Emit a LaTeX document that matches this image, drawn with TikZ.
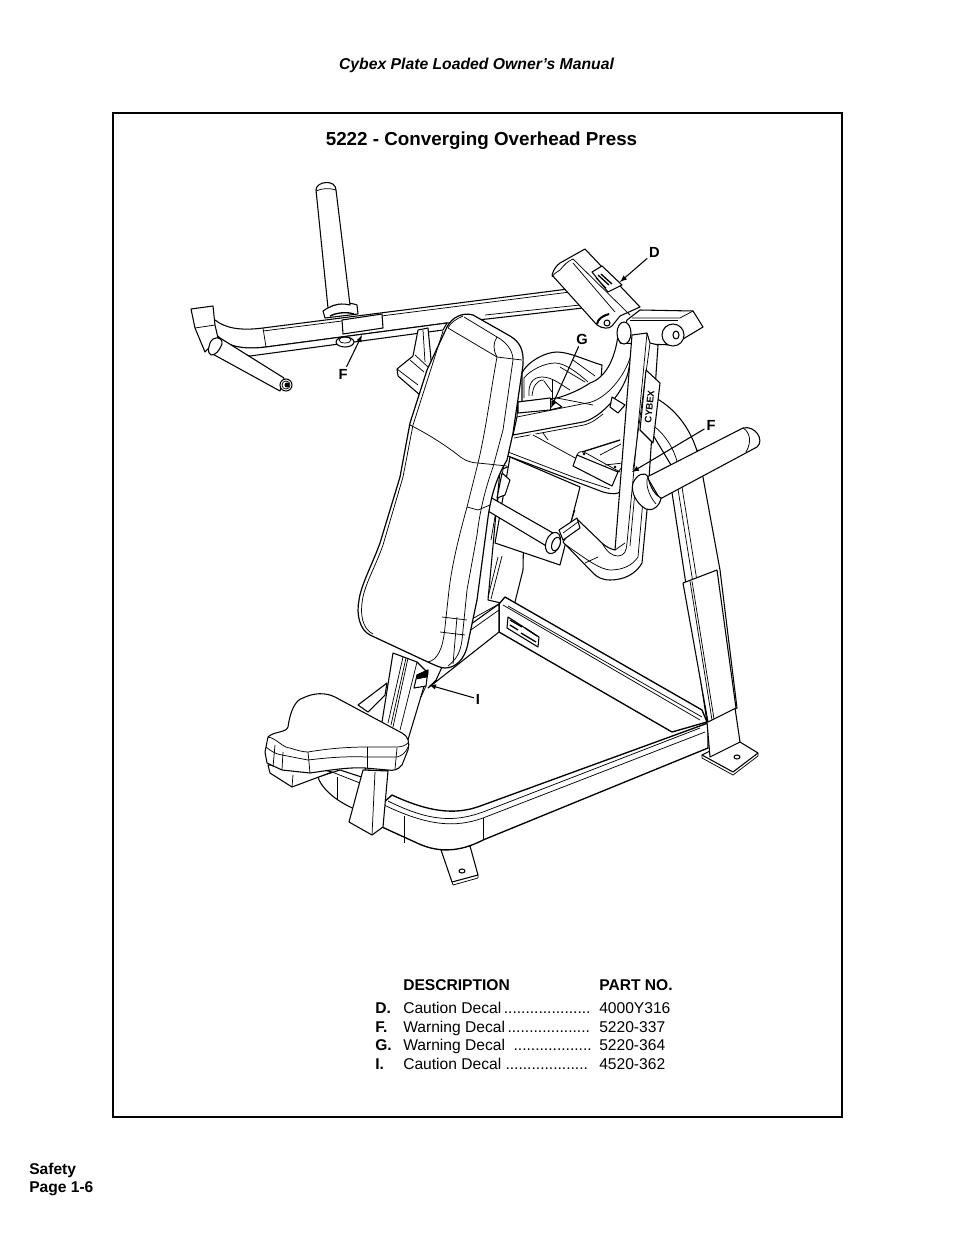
\documentclass[tikz,border=0pt]{standalone}
\usepackage{fontspec}
\setmainfont{Liberation Sans}
\tikzset{
  part/.style={draw=black,fill=white,line width=0.8pt,line join=round},
  seam/.style={draw=black,line width=0.55pt,line join=round},
  callout/.style={->,draw=black,line width=0.8pt,shorten <=1pt,shorten >=0pt},
  tag/.style={font=\fontsize{11}{12}\selectfont\bfseries,inner sep=0.5pt},
  rowtxt/.style={font=\fontsize{11.7}{13}\selectfont,anchor=base west,inner sep=0pt},
  rowkey/.style={font=\fontsize{11.7}{13}\selectfont\bfseries,anchor=base west,inner sep=0pt}
}
\begin{document}
\begin{tikzpicture}[>=latex,x=0.75pt,y=-0.75pt]
  \useasboundingbox (0,0) rectangle (954,1235);
  % Page: frame and running texts
  \draw [line width=1pt] (113,113) rectangle (842,1117);
  \node (manual) at (476.5,65) {\fontsize{11.8}{13}\selectfont\bfseries\itshape Cybex Plate Loaded Owner’s Manual};
  \node (title) at (481.5,141) {\fontsize{14.1}{16}\selectfont\bfseries 5222 - Converging Overhead Press};
  \node [rowkey] (safety) at (29,1174) {Safety};
  \node [rowkey] (pageno) at (29,1192) {Page 1-6};
  % Part: large arc behind the right arm
  \draw [part] (652,396) .. controls (676,408) and (692,430) .. (699,458) -- (680,480) -- (650,430) -- cycle;
  \draw [seam] (655,427) .. controls (665,435) and (674,448) .. (678,465);
  % Part: right rear leg
  \draw [part] (671,486) -- (698,450) -- (720,570) -- (737,708) -- (707,722) -- cycle;
  \draw [seam] (677,483) -- (693,583);
  \draw [seam] (681,481) -- (697,581);
  % Part: overhead beam
  \draw [part] (215,320) .. controls (225,328) and (240,331) .. (263,328) -- (568,289) -- (583,308) -- (487,319) -- (447,323) -- (266,347) .. controls (240,350) and (225,347) .. (210,330) -- cycle;
  \draw [seam] (263,331) -- (570,292);
  \draw [seam] (485,315) -- (580,305);
  \draw [part] (218,336) .. controls (225,345) and (235,352) .. (250,356) -- (443,330) -- (447,323) -- (266,347) .. controls (242,350) and (226,346) .. (218,336) -- cycle;
  \draw [seam] (263,328) -- (266,347);
  \draw [part] (342,320) -- (382,314) -- (383,328) -- (343,334) -- cycle;
  \draw [part] (345,342) ellipse (9 and 5);
  \draw [seam] (345,340) ellipse (6 and 3);
  % Part: upright peg
  \draw [part] (323,311) .. controls (335,302) and (350,302) .. (357,305) -- (358,314) -- (325,318) -- cycle;
  \draw [part] (328,308) -- (316,190) .. controls (316,181) and (336,179) .. (336,190) -- (350,305) .. controls (342,303) and (334,304) .. (328,308) -- cycle;
  \draw [seam] (316,191) .. controls (322,188) and (330,188) .. (336,190);
  \draw [seam,line width=1pt] (330,316) .. controls (338,312) and (348,312) .. (354,314);
  % Part: bracket and left handle
  \draw [part] (191,309) -- (213,306) -- (215,325) -- (218,338) -- (205,352) -- (195,328) -- cycle;
  \draw [seam] (195,328) -- (215,325);
  \draw [part] (220,338) -- (284,378) -- (280,391) -- (209,352) -- cycle;
  \draw [part] (286,385) circle (6);
  \draw [seam] (286,385) circle (4);
  \draw [fill=black] (287,385) circle (2.2);
  \draw [part] (213,339) .. controls (218,336) and (223,339) .. (222,344) .. controls (219,351) and (216,355) .. (211,355) .. controls (207,354) and (208,343) .. (213,339) -- cycle;
  % Part: struts behind the pad
  \draw [part] (418,330) -- (428,328) -- (432,370) -- (420,395) -- (398,376) -- (397,369) -- (413,356) -- cycle;
  \draw [seam] (423,330) -- (425,362);
  \draw [seam] (415,355) -- (428,367);
  \draw [seam] (410,360) -- (424,372);
  \draw [seam] (397,369) -- (418,385);
  % Part: hump and sweeping tube
  \draw [part] (522,400) -- (522,373) .. controls (527,362) and (545,352) .. (557,352) .. controls (570,352) and (590,362) .. (602,365) -- (600,395) -- (522,405) -- cycle;
  \draw [seam] (524,398) -- (524,378) .. controls (530,370) and (545,363) .. (555,363) .. controls (565,363) and (578,373) .. (588,382);
  \draw [seam] (529,396) .. controls (528,385) and (532,377) .. (542,377) .. controls (552,377) and (560,384) .. (570,390);
  \draw [seam] (532,396) .. controls (533,387) and (536,380) .. (544,380);
  \draw [seam] (552,380) -- (552,398);
  \draw [seam] (544,381) -- (552,392);
  \draw [seam] (560,367) -- (585,382);
  \draw [seam] (573,360) -- (595,376);
  \draw [part] (618,335) .. controls (615,360) and (605,378) .. (590,383) .. controls (580,390) and (565,396) .. (557,398) -- (518,402) -- (517,417) -- (513,435) -- (583,422) .. controls (600,418) and (622,395) .. (628,373) -- (634,345) -- cycle;
  \draw [seam] (517,417) -- (587,403) .. controls (602,401) and (622,382) .. (630,358);
  \draw [seam] (514,438) -- (584,425) .. controls (592,423) and (598,418) .. (603,414);
  \draw [seam] (557,398) -- (593,405);
  \draw [part] (518,402) -- (550,398) -- (562,407) -- (550,410) -- (518,413) -- cycle;
  \draw [seam] (550,398) -- (550,410);
  \draw [part] (612,397) -- (625,405) -- (618,413) -- (610,407) -- cycle;
  % Part: column and hanging plate
  \draw [part] (488,600) -- (500,470) -- (525,460) -- (523,570) -- (514,606) -- cycle;
  \draw [part] (510,457) -- (580,487) -- (560,565) -- (495,543) -- cycle;
  \draw [seam] (505,458) -- (491,540);
  \draw [seam] (498,557) -- (488,597);
  \draw [seam] (502,556) -- (491,599);
  \draw [part] (502,473) -- (510,480) -- (505,495) -- (497,498) -- cycle;
  \draw [seam] (575,510) -- (570,525);
  % Part: strip and tray on the arm
  \fill [white] (508,452) -- (533,433) -- (590,460) -- (632,462) -- (627,490) -- (618,494) -- (603,492) -- (508,456) -- cycle;
  \draw [seam] (533,435) -- (577,459);
  \draw [seam] (508,452) -- (573,477);
  \draw [seam] (573,477) -- (610,489);
  \draw [part,fill=none] (508,456) -- (603,492) .. controls (610,494) and (615,494) .. (618,493) -- (632,483);
  \draw [seam] (543,433) -- (548,440);
  \draw [part] (577,455) -- (573,466) -- (612,486) -- (618,472) -- cycle;
  \draw [seam] (577,455) .. controls (578,452) and (581,451) .. (584,452) -- (620,472);
  \draw [line width=1pt] (582,452) -- (620,440);
  \draw [seam] (600,455) -- (621,444);
  \draw [seam] (605,465) -- (632,462);
  \draw [seam] (618,472) -- (623,466);
  \draw [fill=black] (584,454) circle (1);
  \draw [fill=black] (615,467) circle (1);
  % Part: base frame, feet first
  \draw [part] (441,850) -- (452,882) -- (478,875) -- (470,846) -- cycle;
  \draw [seam] (452,882) -- (453,885) -- (478,878) -- (478,875);
  \draw [part] (462,871) ellipse (3 and 2);
  \draw [part] (702,755) -- (733,772) -- (758,753) -- (740,742) -- (712,750) -- cycle;
  \draw [seam] (702,755) -- (702,758) -- (733,775) -- (758,756) -- (758,753);
  \draw [part] (737,757) ellipse (3 and 2);
  \draw [part,line width=1pt] (499,604) -- (505,597) -- (702,710) -- (707,722) -- (672,732) -- (499,632) -- cycle;
  \draw [seam] (503,605) -- (700,720);
  \draw [seam] (508,606) -- (702,717);
  \draw [seam] (499,604) -- (499,632);
  \draw [part] (508,617) -- (539,637) -- (538,647) -- (507,628) -- cycle;
  \draw [seam,line width=1pt] (510,620) -- (522,627);
  \draw [seam,line width=1pt] (510,625) -- (518,630);
  \draw [seam,line width=1pt] (525,628) -- (537,636);
  \draw [seam,line width=1pt] (521,633) -- (536,642);
  \draw [part,line width=1pt] (708,723) -- (483,805) .. controls (460,814) and (435,815) .. (392,795) -- (382,804) -- (382,827) -- (417,843) .. controls (440,854) and (462,851) .. (483,840) -- (708,748) -- cycle;
  \draw [seam] (700,728) -- (483,812) .. controls (455,822) and (430,822) .. (388,801);
  \draw [seam] (705,732) -- (483,818) .. controls (455,828) and (428,826) .. (384,805);
  \draw [seam] (404,816) -- (404,843);
  \draw [seam] (483,818) -- (483,840);
  \draw [part] (499,604) -- (467,627) -- (450,650) -- (436,680) -- (428,688) -- (499,632) -- cycle;
  \draw [seam] (499,604) -- (470,620);
  \draw [seam] (499,610) -- (468,632);
  % Part: right leg sleeve
  \draw [part] (707,722) -- (710,757) -- (740,742) -- (735,708) -- cycle;
  \draw [part] (683,583) -- (717,570) -- (736,708) -- (708,722) -- cycle;
  \draw [seam] (690,581) -- (712,720);
  \draw [seam] (692,581) -- (714,719);
  % Part: pad on top with decal
  \draw [part] (552,275) .. controls (554,269) and (556,266) .. (560,263) -- (585,249) -- (640,307) -- (620,316) -- (612,326) .. controls (609,329) and (603,329) .. (597,325) -- cycle;
  \draw [seam] (552,277) .. controls (555,272) and (558,272) .. (560,270) .. controls (564,265) and (568,261) .. (573,259) -- (630,315);
  \draw [seam] (573,263) -- (615,312);
  \draw [part] (592,272) -- (602,266) -- (622,285) -- (608,292) -- cycle;
  \draw [seam,line width=1pt] (598,275) -- (609,285);
  \draw [seam,line width=1pt] (601,274) -- (612,284);
  \draw [seam] (596,278) -- (606,288);
  \draw [line width=1.5pt] (597,324) .. controls (598,319) and (602,316) .. (609,314);
  \draw [part] (607,323) circle (3);
  % Part: cross tube
  \draw [part] (627,320) -- (640,310) -- (693,311) -- (703,327) -- (673,345) -- (620,343) -- cycle;
  \draw [seam] (630,320) -- (678,320);
  \draw [seam] (632,318) -- (680,318) -- (693,311);
  \draw [part] (624,333) ellipse (7 and 11);
  \draw [part] (673,335) circle (11);
  \draw [part] (676,335) ellipse (3 and 4);
  % Part: right arm tube
  \draw [part] (632,335) -- (647,333) -- (650,343) -- (658,345) -- (650,463) -- (647,510) -- (642,563) .. controls (636,574) and (624,580) .. (610,580) .. controls (602,580) and (597,577) .. (593,573) -- (563,542) -- (578,520) -- (602,543) .. controls (606,547) and (611,549) .. (615,550) -- cycle;
  \draw [seam] (647,333) -- (627,543) .. controls (626,552) and (625,555) .. (618,556) .. controls (612,556) and (607,552) .. (602,543);
  \draw [seam] (615,550) -- (625,543);
  \draw [seam] (650,343) -- (633,470);
  \draw [seam] (643,500) -- (638,557) .. controls (632,566) and (622,570) .. (610,570) .. controls (600,569) and (590,562) .. (566,545);
  \draw [seam] (636,480) -- (630,546);
  \draw [seam] (585,563) -- (598,557);
  % Part: CYBEX decal
  \draw [part] (646,370) -- (660,383) -- (653,443) -- (640,430) -- cycle;
  \node [rotate=84,inner sep=0pt] (brand) at (649.5,407) {\fontsize{7.2}{8}\selectfont\bfseries CYBEX};
  % Part: right handle
  \draw [part] (647,477) -- (743,428) .. controls (755,425) and (765,440) .. (757,447) -- (660,499) -- cycle;
  \draw [seam] (743,428) .. controls (750,432) and (752,442) .. (746,452);
  \draw [part] (633,483) .. controls (637,474) and (645,471) .. (648,477) .. controls (650,487) and (655,495) .. (661,498) .. controls (660,506) and (652,512) .. (646,509) .. controls (638,505) and (630,493) .. (633,483) -- cycle;
  \draw [seam] (648,477) .. controls (645,482) and (648,495) .. (656,504);
  % Part: left arm handle with stub
  \draw [part] (483,493) -- (553,533) -- (548,547) -- (483,508) -- cycle;
  \draw [part] (481,500) ellipse (4 and 8);
  \draw [part,rotate around={-20:(553,543)}] (553,543) ellipse (7 and 11);
  \draw [part,rotate around={-20:(556,544)}] (556,544) ellipse (4 and 7);
  \draw [part] (559,530) -- (577,518) -- (580,528) -- (563,540) -- cycle;
  \draw [seam] (563,533) -- (578,522);
  % Part: seat column and brace
  \draw [part] (393,653) -- (417,662) -- (428,673) -- (407,743) -- (387,771) -- (365,770) -- (382,722) -- cycle;
  \draw [seam] (403,657) -- (388,723);
  \draw [seam] (406,658) -- (391,725);
  \draw [seam] (408,658) -- (393,727);
  \draw [seam] (417,662) -- (400,730);
  \draw [part] (417,675) -- (428,670) -- (426,686) -- (414,688) -- cycle;
  \draw [fill=black] (417,675) -- (428,670) -- (427,677) -- (417,679) -- cycle;
  \draw [seam] (426,686) -- (421,697);
  \draw [part] (358,705) -- (387,683) -- (385,695) -- (368,712) -- cycle;
  % Part: tube and post under the seat
  \draw [part] (318,777) .. controls (320,785) and (332,800) .. (357,810) -- (382,800) -- (380,783) -- (340,770) -- cycle;
  \draw [seam] (332,772) -- (360,783);
  \draw [seam] (337,777) -- (337,800);
  \draw [part] (363,770) -- (349,822) -- (372,835) -- (383,827) -- (388,771) -- cycle;
  \draw [seam] (375,772) -- (372,835);
  % Part: seat
  \draw [part] (268,765) -- (270,773) -- (292,787) -- (332,772) -- (305,765) -- cycle;
  \draw [seam] (293,775) -- (292,787);
  \draw [part] (268,737) .. controls (274,731) and (286,733) .. (288,727) .. controls (290,712) and (295,700) .. (303,698) .. controls (313,693) and (325,692) .. (335,697) -- (402,733) .. controls (408,736) and (410,742) .. (408,750) -- (402,765) .. controls (398,770) and (393,771) .. (388,770) -- (365,768) .. controls (350,767) and (330,770) .. (310,773) -- (282,770) -- (267,763) -- (265,752) -- cycle;
  \draw [seam] (268,737) .. controls (276,738) and (283,748) .. (290,748) .. controls (296,750) and (303,752) .. (308,752) .. controls (320,750) and (340,747) .. (367,747) -- (397,747) .. controls (402,747) and (406,745) .. (408,743);
  \draw [seam] (266,747) .. controls (272,752) and (276,754) .. (282,755) -- (308,760) .. controls (325,758) and (345,756) .. (367,757) -- (397,757) .. controls (402,756) and (406,752) .. (408,747);
  \draw [seam] (275,745) -- (273,767);
  \draw [seam] (283,752) -- (282,770);
  \draw [seam] (308,752) -- (310,773);
  \draw [seam] (367,747) -- (367,768);
  \draw [seam] (397,748) -- (395,769);
  % Part: back pad
  \draw [part,line width=0.9pt] (447,327) .. controls (452,317) and (463,312) .. (473,315) -- (510,336) .. controls (520,342) and (524,350) .. (523,365) -- (513,433) -- (507,460) .. controls (495,480) and (490,500) .. (487,525) -- (477,600) -- (468,643) .. controls (465,660) and (455,668) .. (445,668) .. controls (440,668) and (435,665) .. (430,663) -- (370,635) .. controls (360,630) and (356,615) .. (359,600) .. controls (361,585) and (372,565) .. (380,543) -- (400,477) -- (410,423) -- (427,370) -- cycle;
  \draw [seam] (448,328) -- (497,357) .. controls (490,395) and (486,430) .. (478,463) -- (467,507) .. controls (458,540) and (452,565) .. (449,590) -- (445,627) .. controls (443,650) and (437,660) .. (428,662);
  \draw [seam] (443,331) -- (430,372) -- (413,425) -- (403,477) -- (383,545) .. controls (375,568) and (364,585) .. (362,603) .. controls (360,620) and (365,630) .. (373,634);
  \draw [seam] (463,316) .. controls (456,319) and (450,323) .. (448,328);
  \draw [seam] (497,357) -- (522,360);
  \draw [seam] (497,357) .. controls (493,350) and (493,343) .. (497,337) -- (464,317);
  \draw [seam] (513,360) .. controls (513,350) and (506,342) .. (497,337);
  \draw [seam] (513,360) -- (503,430) -- (493,467) .. controls (485,490) and (480,510) .. (477,535) -- (467,590) -- (462,640) .. controls (460,655) and (455,660) .. (448,666);
  \draw [seam] (410,425) .. controls (428,434) and (445,445) .. (458,455) .. controls (465,461) and (472,463) .. (478,463) -- (507,466);
  \draw [seam] (467,507) -- (478,510) -- (490,505);
  \draw [seam] (442,617) -- (467,620);
  \draw [seam] (440,632) -- (465,635);
  \draw [seam] (457,617) -- (453,664);
  % Callouts: letters and their arrows
  \coordinate (tipD) at (620,282);
  \coordinate (tipG) at (551,408);
  \coordinate (tipFa) at (362,335);
  \coordinate (tipFb) at (632,472);
  \coordinate (tipI) at (429,685);
  \node [tag] (labD) at (654.5,252) {D};
  \node [tag] (labG) at (582,339) {G};
  \node [tag] (labFa) at (343,374) {F};
  \node [tag] (labFb) at (711,425) {F};
  \node [tag] (labI) at (478,699) {I};
  \draw [callout] (labD) -- (tipD);
  \draw [callout] (labG) -- (tipG);
  \draw [callout] (labFa) -- (tipFa);
  \draw [callout] (labFb) -- (tipFb);
  \draw [callout] (labI) -- (tipI);
  % Table: decals and part numbers
  \node [rowkey] (headdesc) at (403,990) {DESCRIPTION};
  \node [rowkey] (headpart) at (599,990) {PART NO.};
  \node [rowkey] (keyD) at (375,1013) {D.};
  \node [rowtxt] (descD) at (403,1013) {Caution Decal\,....................};
  \node [rowtxt] (partD) at (599,1013) {4000Y316};
  \node [rowkey] (keyF) at (375,1032) {F.};
  \node [rowtxt] (descF) at (403,1032) {Warning Decal\,...................};
  \node [rowtxt] (partF) at (599,1032) {5220-337};
  \node [rowkey] (keyG) at (375,1050) {G.};
  \node [rowtxt] (descG) at (403,1050) {Warning Decal~~..................};
  \node [rowtxt] (partG) at (599,1050) {5220-364};
  \node [rowkey] (keyI) at (375,1069) {I.};
  \node [rowtxt] (descI) at (403,1069) {Caution Decal~...................};
  \node [rowtxt] (partI) at (599,1069) {4520-362};
\end{tikzpicture}
\end{document}
